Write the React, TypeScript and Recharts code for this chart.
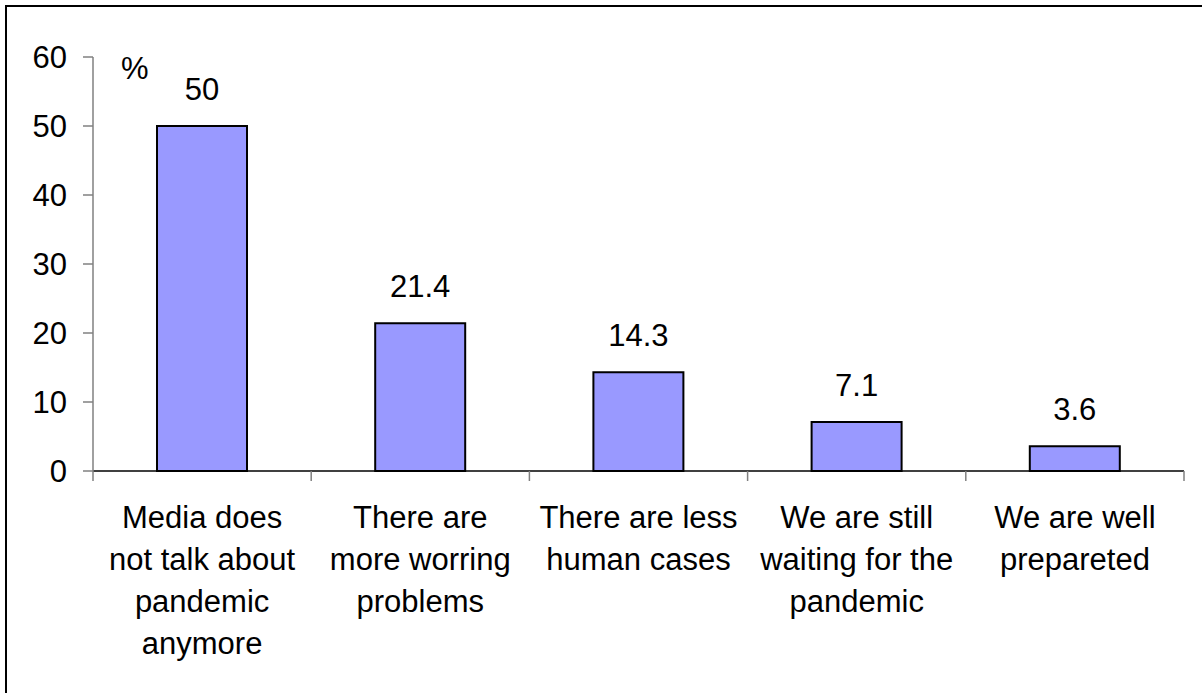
import { BarChart, Bar, XAxis, YAxis, LabelList, Label } from 'recharts';

const categories = [
  'Media does\nnot talk about\npandemic\nanymore',
  'There are\nmore worring\nproblems',
  'There are less\nhuman cases',
  'We are still\nwaiting for the\npandemic',
  'We are well\nprepareted',
];

const percentages = [50, 21.4, 14.3, 7.1, 3.6];

const yTicks = [0, 10, 20, 30, 40, 50, 60];

const data = categories.map((name, i) => ({ name, value: percentages[i] }));

const font = '"Liberation Sans", Arial, sans-serif';

// label lines plus tick marks on the category boundaries (Excel style)
function CategoryTick(props: any) {
  const { x, y, payload, index, visibleTicksCount } = props;
  const half = payload.offset || 0;
  const axisY = y - 12;
  const lines = String(payload.value).split('\n');
  return (
    <g>
      <line x1={x - half} x2={x - half} y1={axisY} y2={axisY + 10} stroke="#808080" strokeWidth={1.5} />
      {index === visibleTicksCount - 1 && (
        <line x1={x + half} x2={x + half} y1={axisY} y2={axisY + 10} stroke="#808080" strokeWidth={1.5} />
      )}
      <text x={x} y={y + 45} textAnchor="middle" fill="#000" fontSize={31} fontFamily={font}>
        {lines.map((line, i) => (
          <tspan key={i} x={x} dy={i === 0 ? 0 : 42}>
            {line}
          </tspan>
        ))}
      </text>
    </g>
  );
}

export default function App() {
  return (
    <div style={{ position: 'absolute', left: 0, top: 0, width: 1202, height: 693, background: '#fff', overflow: 'hidden' }}>
      <div
        style={{
          position: 'absolute',
          left: 5,
          top: 5,
          right: -10,
          bottom: -10,
          borderLeft: '2px solid #000',
          borderTop: '2px solid #000',
        }}
      />
      <div style={{ position: 'absolute', left: 0, top: 0 }}>
        <BarChart
          width={1202}
          height={693}
          data={data}
          margin={{ top: 57, right: 18, bottom: 22, left: 0 }}
          barSize={90}
        >
          <XAxis
            dataKey="name"
            height={200}
            interval={0}
            tickSize={10}
            tickMargin={2}
            tickLine={false}
            axisLine={{ stroke: '#000', strokeWidth: 1.5 }}
            tick={<CategoryTick />}
          />
          <YAxis
            width={93}
            domain={[0, 60]}
            ticks={yTicks}
            interval={0}
            tickSize={10}
            tickMargin={16}
            axisLine={{ stroke: '#808080', strokeWidth: 1.5 }}
            tickLine={{ stroke: '#808080', strokeWidth: 1.5 }}
            tick={{ fill: '#000', fontSize: 31, fontFamily: font }}
          >
            <Label
              content={(p: any) => (
                <text
                  x={p.viewBox.x + p.viewBox.width + 28}
                  y={p.viewBox.y + 22}
                  fontSize={31}
                  fontFamily={font}
                  fill="#000"
                >
                  %
                </text>
              )}
            />
          </YAxis>
          <Bar dataKey="value" fill="#9999ff" stroke="#000" strokeWidth={2} isAnimationActive={false}>
            <LabelList dataKey="value" position="top" offset={26} fill="#000" fontSize={31} fontFamily={font} />
          </Bar>
        </BarChart>
      </div>
    </div>
  );
}
